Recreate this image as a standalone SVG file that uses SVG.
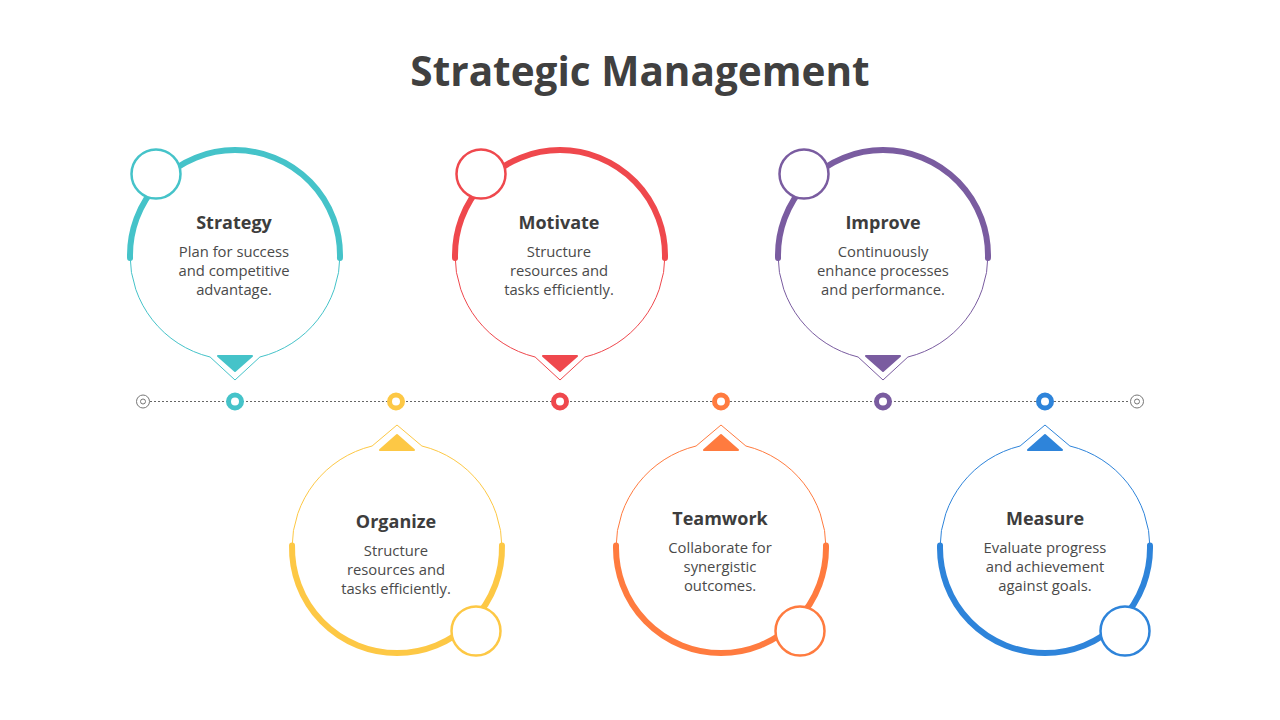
<svg xmlns="http://www.w3.org/2000/svg" width="1280" height="720" viewBox="0 0 1280 720">
<style>
.title{font-family:"Open Sans","Liberation Sans",sans-serif;font-weight:700;font-size:40.5px;fill:#404040;text-anchor:middle}
.h{font-family:"Open Sans","Liberation Sans",sans-serif;font-weight:700;font-size:18px;fill:#3d3d3d;text-anchor:middle}
.d{font-family:"Open Sans","Liberation Sans",sans-serif;font-size:14.8px;fill:#4a4a4a;text-anchor:middle}
.thick{fill:none;stroke-width:6;stroke-linecap:round}
.thin{fill:none;stroke-width:1}
.small{fill:#fff;stroke-width:2.5}
.tri{stroke-width:2;stroke-linejoin:round}
.dot{fill:#fff;stroke-width:5}
.end{fill:#fff;stroke:#777;stroke-width:1}
</style>
<rect width="1280" height="720" fill="#fff"/>
<text class="title" x="640" y="86">Strategic Management</text>

<g id="connectors">
<line x1="150" y1="401.5" x2="1130" y2="401.5" stroke="#666" stroke-width="1" stroke-dasharray="2 2"/>
<circle class="end" cx="143" cy="401.5" r="6.5"/>
<circle class="end" cx="143" cy="401.5" r="2.5"/>
<circle class="end" cx="1137" cy="401.5" r="6.5"/>
<circle class="end" cx="1137" cy="401.5" r="2.5"/>
<circle class="dot" cx="235" cy="401.5" r="6.5" stroke="#45C3C9"/>
<circle class="dot" cx="396" cy="401.5" r="6.5" stroke="#FDC845"/>
<circle class="dot" cx="560" cy="401.5" r="6.5" stroke="#EF484D"/>
<circle class="dot" cx="721" cy="401.5" r="6.5" stroke="#FF7B3F"/>
<circle class="dot" cx="883" cy="401.5" r="6.5" stroke="#7A5CA0"/>
<circle class="dot" cx="1045" cy="401.5" r="6.5" stroke="#2E84DA"/>
</g>

<g id="strategy">
<path class="thin" stroke="#45C3C9" d="M340,255 A105,105 0 0 1 259.9,357 L235,380 L210.1,357 A105,105 0 0 1 130,255"/>
<path class="thick" stroke="#45C3C9" d="M130.04,258 A105,105 0 1 1 339.96,258"/>
<polygon class="tri" fill="#45C3C9" stroke="#45C3C9" points="218,356 252,356 235,371"/>
<circle class="small" stroke="#45C3C9" cx="156" cy="174" r="24.5"/>
<text class="h" x="234" y="228.5">Strategy</text>
<text class="d" x="234" y="256.5">Plan for success</text>
<text class="d" x="234" y="275.5">and competitive</text>
<text class="d" x="234" y="294.5">advantage.</text>
</g>

<g id="motivate">
<path class="thin" stroke="#EF484D" d="M665,255 A105,105 0 0 1 584.9,357 L560,380 L535.1,357 A105,105 0 0 1 455,255"/>
<path class="thick" stroke="#EF484D" d="M455.04,258 A105,105 0 1 1 664.96,258"/>
<polygon class="tri" fill="#EF484D" stroke="#EF484D" points="543,356 577,356 560,371"/>
<circle class="small" stroke="#EF484D" cx="481" cy="174" r="24.5"/>
<text class="h" x="559" y="228.5">Motivate</text>
<text class="d" x="559" y="256.5">Structure</text>
<text class="d" x="559" y="275.5">resources and</text>
<text class="d" x="559" y="294.5">tasks efficiently.</text>
</g>

<g id="improve">
<path class="thin" stroke="#7A5CA0" d="M988,255 A105,105 0 0 1 907.9,357 L883,380 L858.1,357 A105,105 0 0 1 778,255"/>
<path class="thick" stroke="#7A5CA0" d="M778.04,258 A105,105 0 1 1 987.96,258"/>
<polygon class="tri" fill="#7A5CA0" stroke="#7A5CA0" points="866,356 900,356 883,371"/>
<circle class="small" stroke="#7A5CA0" cx="804" cy="174" r="24.5"/>
<text class="h" x="883" y="228.5">Improve</text>
<text class="d" x="883" y="256.5">Continuously</text>
<text class="d" x="883" y="275.5">enhance processes</text>
<text class="d" x="883" y="294.5">and performance.</text>
</g>

<g id="organize">
<path class="thin" stroke="#FDC845" d="M292,548 A105,105 0 0 1 372.1,446 L397,425 L421.9,446 A105,105 0 0 1 502,548"/>
<path class="thick" stroke="#FDC845" d="M501.97,545.5 A105,105 0 1 1 292.03,545.5"/>
<polygon class="tri" fill="#FDC845" stroke="#FDC845" points="380,450 414,450 397,435"/>
<circle class="small" stroke="#FDC845" cx="476" cy="631" r="24.5"/>
<text class="h" x="396" y="527.5">Organize</text>
<text class="d" x="396" y="555.5">Structure</text>
<text class="d" x="396" y="574.5">resources and</text>
<text class="d" x="396" y="593.5">tasks efficiently.</text>
</g>

<g id="teamwork">
<path class="thin" stroke="#FF7B3F" d="M616,548 A105,105 0 0 1 696.1,446 L721,425 L745.9,446 A105,105 0 0 1 826,548"/>
<path class="thick" stroke="#FF7B3F" d="M825.97,545.5 A105,105 0 1 1 616.03,545.5"/>
<polygon class="tri" fill="#FF7B3F" stroke="#FF7B3F" points="704,450 738,450 721,435"/>
<circle class="small" stroke="#FF7B3F" cx="800" cy="631" r="24.5"/>
<text class="h" x="720" y="524.5">Teamwork</text>
<text class="d" x="720" y="552.5">Collaborate for</text>
<text class="d" x="720" y="571.5">synergistic</text>
<text class="d" x="720" y="590.5">outcomes.</text>
</g>

<g id="measure">
<path class="thin" stroke="#2E84DA" d="M940,548 A105,105 0 0 1 1020.1,446 L1045,425 L1069.9,446 A105,105 0 0 1 1150,548"/>
<path class="thick" stroke="#2E84DA" d="M1149.97,545.5 A105,105 0 1 1 940.03,545.5"/>
<polygon class="tri" fill="#2E84DA" stroke="#2E84DA" points="1028,450 1062,450 1045,435"/>
<circle class="small" stroke="#2E84DA" cx="1125" cy="631" r="24.5"/>
<text class="h" x="1045" y="524.5">Measure</text>
<text class="d" x="1045" y="552.5">Evaluate progress</text>
<text class="d" x="1045" y="571.5">and achievement</text>
<text class="d" x="1045" y="590.5">against goals.</text>
</g>
</svg>
